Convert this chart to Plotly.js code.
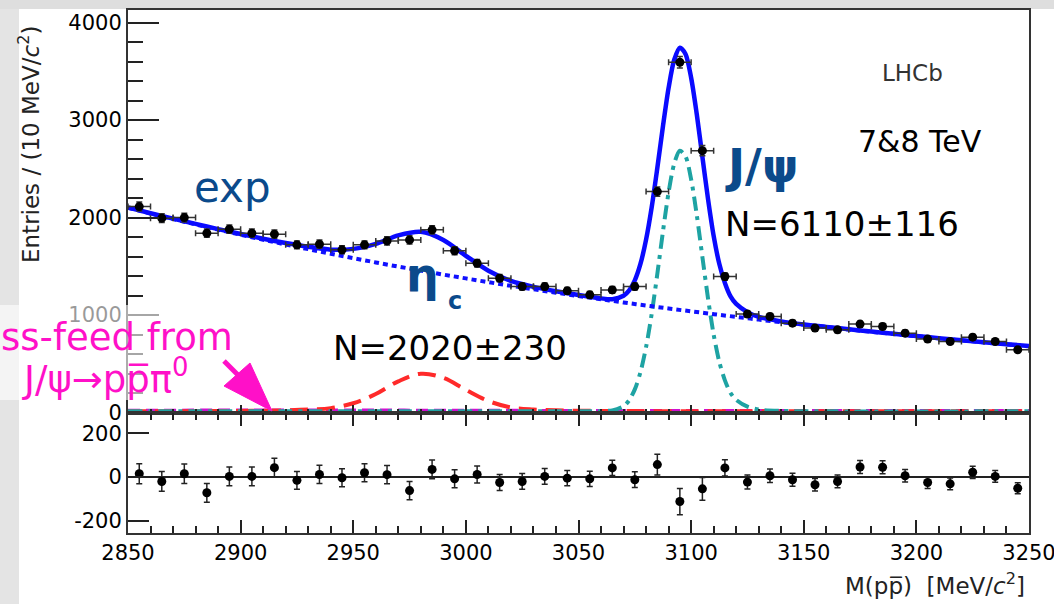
<!DOCTYPE html>
<html><head><meta charset="utf-8">
<script src="https://cdn.plot.ly/plotly-3.0.1.min.js"></script>
<style>html,body{margin:0;padding:0;background:#fff}#chart{width:1054px;height:604px}</style>
</head><body><div id="chart"></div>
<script>
// ---- data ----
const binCenters = [2855,2865,2875,2885,2895,2905,2915,2925,2935,2945,2955,2965,2975,2985,2995,3005,3015,3025,3035,3045,3055,3065,3075,3085,3095,3105,3115,3125,3135,3145,3155,3165,3175,3185,3195,3205,3215,3225,3235,3245];
const counts = [2113,1994,2000,1840,1881,1840,1830,1720,1727,1669,1720,1761,1771,1874,1660,1532,1378,1292,1292,1248,1207,1258,1292,2267,3594,2687,1395,1010,985,917,866,848,907,882,814,753,728,773,728,643];
const countErr = [46,45,45,43,43,43,43,41,42,41,41,42,42,43,41,39,37,36,36,35,35,35,36,48,60,52,37,32,31,30,29,29,30,30,29,27,27,28,27,25];
const residuals = [15,-20,15,-72,3,3,43,-15,12,-3,20,11,-62,35,-8,12,-25,-20,3,-5,-8,42,-12,57,-112,-54,42,-23,6,-12,-35,-20,46,45,6,-25,-31,22,3,-51];

const coarseM = [2850,2860,2870,2880,2890,2900,2910,2920,2930,2940,2950,2960,2970,2980,2990,3000,3010,3020,3030,3040,3050,3060,3070,3080,3090,3100,3110,3120,3130,3140,3150,3160,3170,3180,3190,3200,3210,3220,3230,3240,3250];
const bkgY = [2100,2042,1985,1930,1876,1824,1773,1724,1676,1629,1584,1540,1497,1456,1415,1376,1337,1300,1264,1229,1195,1162,1129,1098,1067,1038,1009,981,953,927,901,876,852,828,805,783,761,740,719,699,680];
const etacY = [14,14,14,14,15,16,18,22,30,45,95,190,320,398,355,232,118,52,30,22,18,16,15,14,14,14,14,14,14,14,14,14,14,14,14,14,14,14,14,14,14];

const jpsiM = [2850,2950,3040,3060,3065,3070,3072.5,3075,3077.5,3080,3082.5,3085,3087.5,3090,3092.5,3095,3097.5,3100,3102.5,3105,3107.5,3110,3112.5,3115,3117.5,3120,3125,3130,3140,3160,3250];
const jpsiY = [12,12,12,14,22,63,126,237,413,671,1013,1423,1858,2259,2554,2686,2629,2393,2027,1596,1171,799,520,330,200,130,60,30,16,12,12];

const feedM = [2850,2900,2950,3000,3050,3100,3150,3200,3250];
const feedY = [18,20,20,18,16,15,15,15,15];

const totalM = [2850,2860,2870,2880,2890,2900,2910,2920,2930,2940,2950,2960,2970,2980,2990,3000,3010,3020,3030,3040,3050,3060,3065,3070,3072.5,3075,3077.5,3080,3082.5,3085,3087.5,3090,3092.5,3095,3097.5,3100,3102.5,3105,3107.5,3110,3112.5,3115,3117.5,3120,3125,3130,3140,3150,3160,3170,3180,3190,3200,3210,3220,3230,3240,3250];
const totalY = [2103,2045,1989,1935,1882,1832,1783,1739,1701,1671,1679,1730,1817,1854,1770,1608,1455,1350,1289,1244,1205,1171,1163,1198,1253,1356,1524,1774,2108,2510,2938,3331,3619,3743,3678,3435,3061,2623,2191,1812,1526,1329,1191,1114,1030,981,935,903,878,854,830,807,785,763,742,721,701,682];

const xTickVals = [2850,2900,2950,3000,3050,3100,3150,3200,3250];
const xTickText = ['2850','2900','2950','3000','3050','3100','3150','3200','3250'];
const yTickVals = [0,1000,2000,3000,4000];
const yTickText = ['0','1000','2000','3000','4000'];
const resTickVals = [-200,0,200];
const resTickText = ['-200','0','200'];

// ---- styling ----
const FONT = 'DejaVu Sans, Liberation Sans, Arial, sans-serif';
const DARKBLUE = '#0b4a8b';
const MAGENTA = '#ff10c8';
const PX = p => (p - 128) / 901;
const PY = p => (533 - p) / 523;
const pt = (a, b) => PX(a).toFixed(5) + ',' + PY(b).toFixed(5);

const traces = [
  {x: feedM, y: feedY, xaxis:'x', yaxis:'y', mode:'lines', line:{color:'#d010d0', width:4, dash:'12px,6px', shape:'spline'}, hoverinfo:'skip'},
  {x: coarseM, y: etacY, xaxis:'x', yaxis:'y', mode:'lines', line:{color:'#ff2a2a', width:4, dash:'18px,9px', shape:'spline'}, hoverinfo:'skip'},
  {x: jpsiM, y: jpsiY, xaxis:'x', yaxis:'y', mode:'lines', line:{color:'#1ea3a3', width:4, dash:'14px,6px,4px,6px', shape:'spline', smoothing:0.8}, hoverinfo:'skip'},
  {x: coarseM, y: bkgY, xaxis:'x', yaxis:'y', mode:'lines', line:{color:'#1010ff', width:4, dash:'5px,4px', shape:'spline'}, hoverinfo:'skip'},
  {x: totalM, y: totalY, xaxis:'x', yaxis:'y', mode:'lines', line:{color:'#0a0aff', width:4.5, shape:'spline', smoothing:0.8}, hoverinfo:'skip'},
  {x: binCenters, y: counts, xaxis:'x', yaxis:'y', mode:'markers',
   marker:{color:'#000', size:9},
   error_x:{type:'constant', value:5, width:3, thickness:1.5, color:'#333'},
   error_y:{type:'data', array:countErr, width:3, thickness:1.5, color:'#333'}},
  {x: binCenters, y: residuals, xaxis:'x2', yaxis:'y2', mode:'markers',
   marker:{color:'#000', size:9},
   error_y:{type:'data', array:countErr, width:3, thickness:1.5, color:'#222'}}
];

const axisLine = {showline:true, linecolor:'#333', linewidth:2, showgrid:false, zeroline:false};

const layout = {
  width:1054, height:604,
  margin:{l:128, r:25, t:10, b:71},
  paper_bgcolor:'#fff', plot_bgcolor:'rgba(0,0,0,0)',
  showlegend:false,
  font:{family:FONT, color:'#000'},
  xaxis: Object.assign({}, axisLine, {
    domain:[0,1], anchor:'y', range:[2850,3250], mirror:true,
    tickmode:'array', tickvals:xTickVals, ticktext:xTickText, showticklabels:false,
    ticks:'inside', ticklen:8, tickwidth:2, tickcolor:'#222',
    minor:{tickmode:'linear', tick0:2850, dtick:10, ticks:'inside', ticklen:4, tickwidth:2, tickcolor:'#222'}
  }),
  yaxis: Object.assign({}, axisLine, {
    domain:[0.2304,1], anchor:'x', range:[0,4130], mirror:true,
    tickmode:'array', tickvals:yTickVals, ticktext:yTickText,
    ticks:'inside', ticklen:31, tickwidth:2, tickcolor:'#222',
    tickfont:{family:FONT, size:21, color:'#000'},
    minor:{tickmode:'linear', tick0:0, dtick:200, ticks:'inside', ticklen:15, tickwidth:2, tickcolor:'#222'}
  }),
  xaxis2: Object.assign({}, axisLine, {
    domain:[0,1], anchor:'y2', range:[2850,3250], mirror:'ticks',
    tickmode:'array', tickvals:xTickVals, ticktext:xTickText,
    ticks:'inside', ticklen:13, tickwidth:2, tickcolor:'#222',
    ticklabeloverflow:'allow',
    tickfont:{family:FONT, size:21, color:'#000'},
    minor:{tickmode:'linear', tick0:2850, dtick:10, ticks:'inside', ticklen:7, tickwidth:2, tickcolor:'#222'}
  }),
  yaxis2: Object.assign({}, axisLine, {
    domain:[0,0.2285], anchor:'x2', range:[-256,291], mirror:true,
    tickmode:'array', tickvals:resTickVals, ticktext:resTickText,
    ticks:'inside', ticklen:21, tickwidth:2, tickcolor:'#222',
    tickfont:{family:FONT, size:21, color:'#000'},
    zeroline:true, zerolinecolor:'#222', zerolinewidth:2
  }),
  shapes:[
    {type:'rect', xref:'paper', yref:'paper', x0:PX(0), x1:PX(19), y0:PY(604), y1:PY(0), fillcolor:'#e4e4e4', line:{width:0}, layer:'below'},
    {type:'rect', xref:'paper', yref:'paper', x0:PX(0), x1:PX(1054), y0:PY(9), y1:PY(0), fillcolor:'#dedede', line:{width:0}, layer:'below'},
    {type:'rect', xref:'paper', yref:'paper', x0:PX(0), x1:PX(165), y0:PY(400), y1:PY(305), fillcolor:'rgba(255,255,255,0.6)', line:{width:0}, layer:'above'},
    // magenta arrow (shaft + head)
    {type:'line', xref:'paper', yref:'paper', x0:PX(224), y0:PY(361), x1:PX(244), y1:PY(381), line:{color:MAGENTA, width:5}, layer:'above'},
    {type:'path', xref:'paper', yref:'paper', path:'M' + pt(224,386) + 'L' + pt(250,363) + 'L' + pt(272,411) + 'Z', fillcolor:MAGENTA, line:{color:MAGENTA, width:1}, layer:'above'}
  ],
  annotations:[
    {xref:'paper', yref:'paper', x:PX(29), y:PY(145), text:'Entries / (10 MeV/<i>c</i><sup>2</sup>)', textangle:-90, showarrow:false, xanchor:'center', yanchor:'middle', font:{family:FONT, size:23, color:'#222'}},
    {xref:'paper', yref:'paper', x:PX(1027), y:PY(584), text:'M(pp\u0305)  [MeV/<i>c</i><sup>2</sup>]', showarrow:false, xanchor:'right', yanchor:'middle', font:{family:FONT, size:23, color:'#222'}},
    {xref:'paper', yref:'paper', x:PX(232), y:PY(187), text:'exp', showarrow:false, xanchor:'center', yanchor:'middle', font:{family:FONT, size:42, color:DARKBLUE}},
    {xref:'paper', yref:'paper', x:PX(422), y:PY(275), text:'<b>\u03b7</b>', showarrow:false, xanchor:'center', yanchor:'middle', font:{family:FONT, size:46, color:DARKBLUE}},
    {xref:'paper', yref:'paper', x:PX(455), y:PY(301), text:'<b>c</b>', showarrow:false, xanchor:'center', yanchor:'middle', font:{family:FONT, size:24, color:DARKBLUE}},
    {xref:'paper', yref:'paper', x:PX(450), y:PY(348), text:'N=2020\u00b1230', showarrow:false, xanchor:'center', yanchor:'middle', font:{family:FONT, size:34, color:'#000'}},
    {xref:'paper', yref:'paper', x:PX(761), y:PY(166), text:'<b>J/\u03c8</b>', showarrow:false, xanchor:'center', yanchor:'middle', font:{family:FONT, size:46, color:DARKBLUE}},
    {xref:'paper', yref:'paper', x:PX(842), y:PY(224), text:'N=6110\u00b1116', showarrow:false, xanchor:'center', yanchor:'middle', font:{family:FONT, size:34, color:'#000'}},
    {xref:'paper', yref:'paper', x:PX(912), y:PY(73), text:'LHCb', showarrow:false, xanchor:'center', yanchor:'middle', font:{family:FONT, size:23, color:'#333'}},
    {xref:'paper', yref:'paper', x:PX(920), y:PY(141), text:'7&amp;8 TeV', showarrow:false, xanchor:'center', yanchor:'middle', font:{family:FONT, size:30, color:'#000'}},
    {xref:'paper', yref:'paper', x:PX(117), y:PY(337), text:'ss-feed from', showarrow:false, xanchor:'center', yanchor:'middle', font:{family:FONT, size:37, color:MAGENTA}},
    {xref:'paper', yref:'paper', x:PX(105), y:PY(376), text:'J/\u03c8\u2192pp\u0305\u03c0<sup>0</sup>', showarrow:false, xanchor:'center', yanchor:'middle', font:{family:FONT, size:37, color:MAGENTA}}
  ]
};

Plotly.newPlot('chart', traces, layout, {displayModeBar:false, staticPlot:true});
</script></body></html>
